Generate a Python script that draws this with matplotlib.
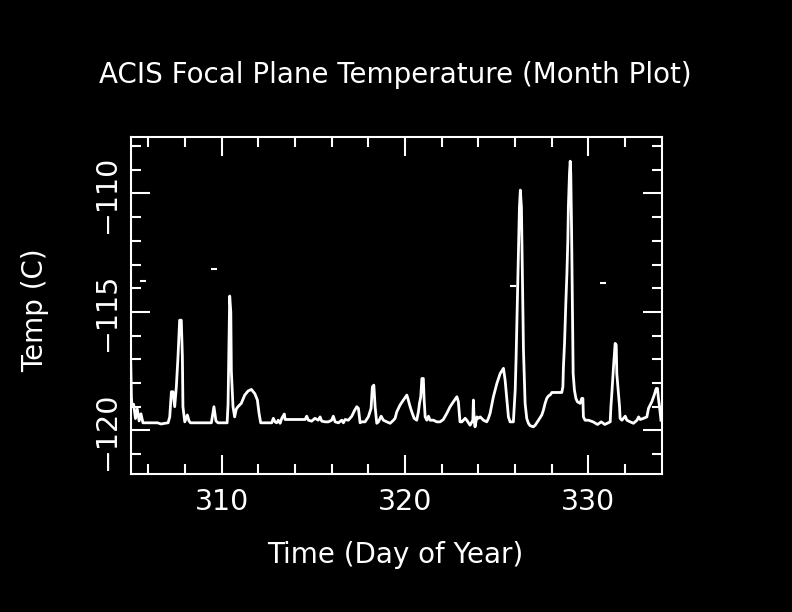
import numpy as np
import matplotlib
matplotlib.use("Agg")
import matplotlib.pyplot as plt

# focal plane temperature trace (day of year, deg C)
day = [
    305.04, 305.08, 305.12, 305.2, 305.3, 305.4, 305.5, 305.6, 305.71, 306.5,
    306.7, 306.9, 307.08, 307.17, 307.26, 307.35, 307.44, 307.53, 307.62, 307.71,
    307.80, 307.86, 307.89, 307.99, 308.13, 308.22, 308.3, 309.44, 309.58, 309.69,
    309.8, 310.3, 310.35, 310.4, 310.44, 310.5, 310.53, 310.62, 310.71, 310.80,
    310.89, 311.07, 311.26, 311.44, 311.62, 311.81, 311.95, 312.04, 312.13, 312.53,
    312.73, 312.82, 312.91, 313.0, 313.09, 313.19, 313.28, 313.42, 313.46, 314.55,
    314.64, 314.73, 314.91, 315.09, 315.27, 315.37, 315.46, 315.64, 315.82, 316.0,
    316.09, 316.19, 316.37, 316.55, 316.64, 316.73, 316.91, 317.1, 317.24, 317.37,
    317.46, 317.55, 317.64, 317.82, 318.0, 318.15, 318.22, 318.3, 318.37, 318.46,
    318.55, 318.7, 318.82, 319.01, 319.19, 319.37, 319.46, 319.55, 319.64, 319.73,
    319.91, 320.1, 320.18, 320.28, 320.37, 320.5, 320.64, 320.73, 320.79, 320.86,
    320.92, 321.0, 321.04, 321.1, 321.19, 321.28, 321.37, 321.55, 321.73, 321.91,
    322.09, 322.28, 322.46, 322.64, 322.83, 322.91, 323.0, 323.1, 323.28, 323.37,
    323.46, 323.55, 323.7, 323.73, 323.77, 323.82, 323.92, 324.0, 324.1, 324.28,
    324.46, 324.55, 324.64, 324.82, 325.01, 325.19, 325.37, 325.46, 325.55, 325.64,
    325.73, 325.91, 326.01, 326.06, 326.1, 326.17, 326.24, 326.29, 326.35, 326.41,
    326.46, 326.55, 326.64, 326.73, 326.82, 327.0, 327.1, 327.28, 327.46, 327.55,
    327.64, 327.73, 327.82, 327.92, 328.01, 328.1, 328.55, 328.61, 328.64, 328.7,
    328.77, 328.83, 328.88, 328.91, 328.97, 329.01, 329.04, 329.08, 329.12, 329.15,
    329.17, 329.24, 329.32, 329.4, 329.55, 329.64, 329.7, 329.73, 329.82, 330.0,
    330.26, 330.5, 330.7, 330.9, 331.19, 331.23, 331.28, 331.37, 331.46, 331.52,
    331.55, 331.64, 331.7, 331.73, 331.83, 332.01, 332.1, 332.28, 332.46, 332.65,
    332.74, 332.83, 333.01, 333.19, 333.28, 333.46, 333.59, 333.7, 333.77, 333.82,
    333.88, 333.96,
]
temp = [
    -117.0, -118.6, -119.0, -118.9, -119.5, -119.1, -119.6, -119.3, -119.68, -119.68,
    -119.73, -119.7, -119.68, -119.43, -118.37, -118.37, -119.0, -118.16, -116.9, -115.35,
    -115.35, -116.9, -119.0, -119.64, -119.35, -119.6, -119.68, -119.68, -119.0, -119.6,
    -119.68, -119.68, -118.9, -116.5, -114.33, -115.0, -117.5, -119.0, -119.43, -119.1,
    -119.0, -118.86, -118.51, -118.34, -118.27, -118.45, -118.72, -119.28, -119.68, -119.68,
    -119.68, -119.49, -119.64, -119.68, -119.57, -119.70, -119.49, -119.31, -119.54, -119.54,
    -119.40, -119.57, -119.61, -119.49, -119.57, -119.43, -119.61, -119.64, -119.64, -119.57,
    -119.40, -119.64, -119.68, -119.57, -119.68, -119.54, -119.57, -119.40, -119.17, -119.0,
    -119.07, -119.68, -119.64, -119.64, -119.43, -119.07, -118.16, -118.09, -119.0, -119.70,
    -119.64, -119.40, -119.57, -119.64, -119.70, -119.57, -119.49, -119.22, -119.07, -118.93,
    -118.72, -118.51, -118.72, -119.0, -119.22, -119.49, -119.57, -119.22, -118.86, -118.58,
    -117.81, -117.81, -118.65, -119.43, -119.57, -119.40, -119.57, -119.57, -119.64, -119.64,
    -119.54, -119.28, -119.0, -118.79, -118.58, -118.79, -119.64, -119.64, -119.49, -119.57,
    -119.68, -119.78, -119.57, -118.72, -119.57, -119.85, -119.43, -119.49, -119.43, -119.57,
    -119.64, -119.49, -119.28, -118.58, -118.02, -117.6, -117.38, -117.88, -118.65, -119.43,
    -119.64, -119.64, -118.3, -116.9, -115.5, -113.0, -110.6, -109.86, -110.6, -114.0,
    -116.6, -118.86, -119.5, -119.7, -119.8, -119.85, -119.78, -119.57, -119.35, -119.14,
    -118.86, -118.65, -118.55, -118.5, -118.40, -118.40, -118.40, -118.16, -117.32, -116.33,
    -114.64, -113.38, -111.97, -110.57, -109.16, -108.64, -109.16, -111.27, -114.08, -115.91,
    -117.6, -118.30, -118.65, -118.79, -118.86, -118.65, -118.65, -119.43, -119.57, -119.57,
    -119.64, -119.75, -119.64, -119.75, -119.64, -119.0, -118.44, -117.32, -116.33, -116.4,
    -117.6, -118.44, -119.0, -119.49, -119.57, -119.40, -119.57, -119.64, -119.70, -119.57,
    -119.43, -119.54, -119.49, -119.43, -119.07, -118.79, -118.51, -118.23, -118.23, -118.65,
    -119.0, -119.57,
]

# stray single readings
stray_day = [305.71, 309.6, 325.91, 330.82]
stray_temp = [-113.7, -113.2, -113.89, -113.8]

fig = plt.figure(figsize=(7.92, 6.12), dpi=100, facecolor="black")
ax = fig.add_axes([0.165, 0.2255, 0.6705, 0.5506], facecolor="black")

ax.plot(day, temp, color="white", lw=2.0)
ax.plot(stray_day, stray_temp, ls="none", marker="_", ms=4, mew=1.5, color="white")

ax.set_xlim(305.04, 334.0)
ax.set_ylim(-121.84, -107.62)

ax.set_xticks([310, 320, 330])
ax.set_xticks(np.arange(306, 334, 2), minor=True)
ax.set_yticks([-120, -115, -110])
ax.set_yticks(np.arange(-121, -107, 1), minor=True)

for s in ax.spines.values():
    s.set_color("white")
    s.set_linewidth(1.5)

ax.tick_params(which="both", direction="in", colors="white", top=True, right=True,
               width=1.5, labelsize=20.5)
ax.tick_params(which="major", length=14)
ax.tick_params(which="minor", length=7)
ax.tick_params(axis="x", pad=10)
ax.tick_params(axis="y", pad=7)
for lab in ax.get_yticklabels():
    lab.set_rotation(90)
    lab.set_va("center")

fig.text(395 / 792, 1 - 75 / 612, "ACIS Focal Plane Temperature (Month Plot)",
         color="white", fontsize=20, ha="center", va="center")
fig.text(395 / 792, 1 - 555 / 612, "Time (Day of Year)",
         color="white", fontsize=20, ha="center", va="center")
fig.text(35 / 792, 1 - 310 / 612, "Temp (C)", rotation=90,
         color="white", fontsize=20, ha="center", va="center")

fig.savefig("out.png", dpi=100, facecolor="black")
